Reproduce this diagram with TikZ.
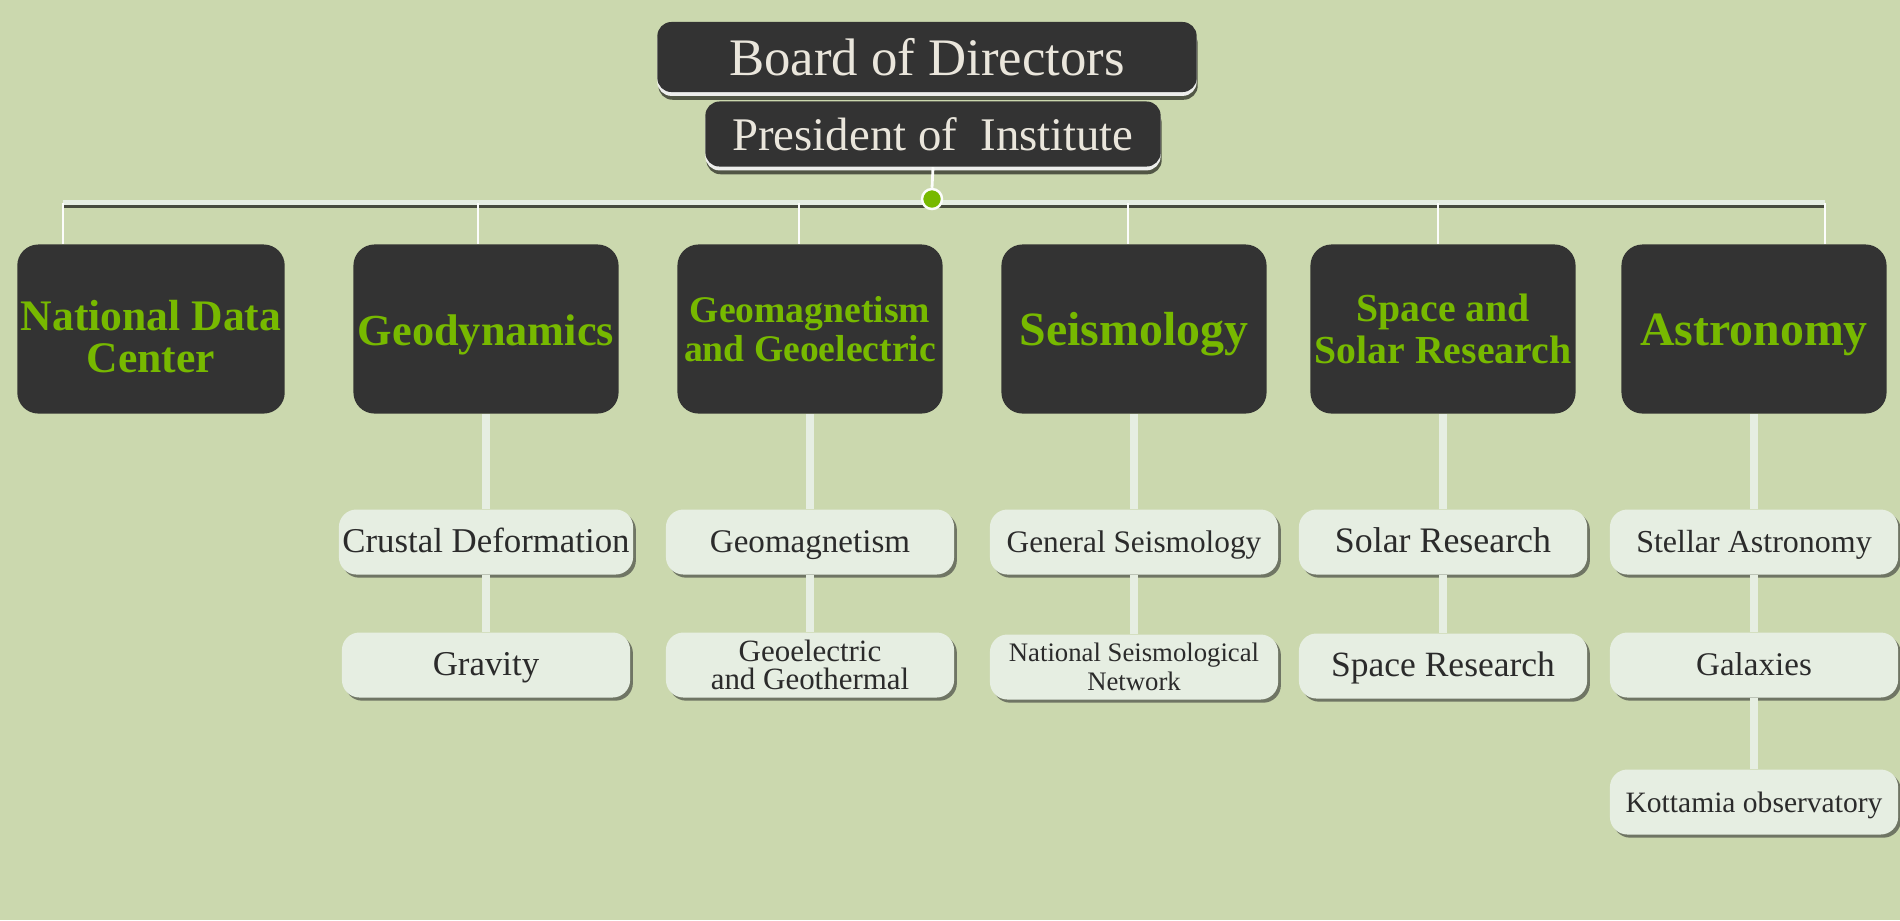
\documentclass[tikz,border=0pt]{standalone}
\usepackage{fontspec}
\setmainfont{Liberation Serif}
\usepackage{xcolor}
\usepackage{tikz}
\usetikzlibrary{shadows, positioning}

\definecolor{pagebg}{HTML}{CBD8AE}
\definecolor{boxdark}{HTML}{333333}
\definecolor{leaf}{HTML}{77B900}
\definecolor{paleleaf}{HTML}{E6EEE2}
\definecolor{ink}{HTML}{2B2B2B}
\definecolor{cream}{HTML}{EAE6DC}

\newcommand{\fs}[2]{\fontsize{#1}{#2}\selectfont}

\begin{document}
\begin{tikzpicture}[
    x=0.01cm, y=-0.01cm,
    head/.style={rectangle, rounded corners=4pt, fill=boxdark, text=cream, align=center, inner sep=1pt,
        drop shadow={fill=black, opacity=0.6, shadow xshift=0.3pt, shadow yshift=-2.2pt},
        drop shadow={fill=white, opacity=0.9, shadow xshift=0pt, shadow yshift=-1.1pt}},
    dept/.style={rectangle, rounded corners=6pt, fill=boxdark, text=leaf, font=\bfseries, minimum width=2.65cm, minimum height=1.69cm, align=center, inner sep=1pt},
    unit/.style={rectangle, rounded corners=5pt, fill=paleleaf, text=ink, minimum width=2.88cm, minimum height=0.65cm, align=center, inner sep=1pt,
        drop shadow={fill=black!80, opacity=0.6, shadow xshift=0.8pt, shadow yshift=-0.9pt}},
    oneline/.style={text height=0.66em, text depth=0.04em},
    thinlink/.style={draw=white!95!pagebg, line width=0.8pt},
    thicklink/.style={draw=paleleaf, line width=2.4pt}
]
    \fill[pagebg] (0,0) rectangle (1900,920);

    % top of the chart
    \node[head, minimum width=5.39cm, minimum height=0.70cm, font=\fs{15}{18}] (board) at (927,57) {Board of Directors};
    \node[head, minimum width=4.55cm, minimum height=0.65cm, font=\fs{13.3}{16}] (president) at (933,134) {President of\ \ Institute};

    \coordinate (barL) at (63,202.5);
    \coordinate (barR) at (1825,202.5);
    \draw[black!65!pagebg, line width=1.4pt] ([yshift=-0.9pt]barL) -- ([yshift=-0.9pt]barR);
    \draw[paleleaf, line width=1.5pt] (barL) -- (barR);
    \node[circle, fill=leaf, draw=white!90!paleleaf, line width=0.7pt, minimum size=0.2cm, inner sep=0pt] (hub) at (932,199) {};
    \draw[thinlink] (president.south) -- (hub.north);

    % departments
    \node[dept, font=\bfseries\fs{12.4}{12}, text height=25pt, text depth=0pt] (ndc) at (151,329) {National Data\\Center};
    \node[dept, font=\bfseries\fs{12.6}{14}, text height=9.3pt, text depth=0pt] (geody) at (486,329) {Geodynamics};
    \node[dept, font=\bfseries\fs{10.7}{10.9}] (geomag) at (810,329) {Geomagnetism\\and Geoelectric};
    \node[dept, font=\bfseries\fs{13.6}{15}, text height=9.2pt, text depth=0pt] (seis) at (1134,329) {Seismology};
    \node[dept, font=\bfseries\fs{11.3}{11.8}] (solar) at (1443,329) {Space and\\Solar Research};
    \node[dept, font=\bfseries\fs{13.6}{15}, text height=9.2pt, text depth=0pt] (astro) at (1754,329) {Astronomy};

    \draw[thinlink] (barL) -- (barL |- ndc.north);
    \draw[thinlink] (barR) -- (barR |- astro.north);
    \foreach \d/\dx in {geody/-8, geomag/-11, seis/-6, solar/-5}
        \draw[thinlink] ([xshift=\dx*0.01cm]\d.north) -- ([xshift=\dx*0.01cm]\d.north |- barL);

    % units
    \node[unit, oneline, font=\fs{9.9}{11}] (crust) at (486,542) {Crustal Deformation};
    \node[unit, oneline, font=\fs{9.9}{11}] (gravity) at (486,665) {Gravity};
    \node[unit, oneline, font=\fs{9.4}{11}] (magnet) at (810,542) {Geomagnetism};
    \node[unit, font=\fs{8.8}{7.8}] (electric) at (810,665) {Geoelectric\\and Geothermal};
    \node[unit, oneline, font=\fs{8.9}{11}] (genseis) at (1134,542) {General Seismology};
    \node[unit, font=\fs{7.6}{8.2}] (network) at (1134,667) {National Seismological\\Network};
    \node[unit, oneline, font=\fs{10.2}{11}] (solres) at (1443,542) {Solar Research};
    \node[unit, oneline, font=\fs{10.1}{11}] (spaceres) at (1443,666) {Space Research};
    \node[unit, oneline, font=\fs{9.1}{11}] (stellar) at (1754,542) {Stellar Astronomy};
    \node[unit, oneline, font=\fs{9.4}{11}] (galaxy) at (1754,665) {Galaxies};
    \node[unit, oneline, font=\fs{8.4}{11}] (kottamia) at (1754,802) {Kottamia observatory};

    \draw[thicklink] (geody) -- (crust);
    \draw[thicklink] (crust) -- (gravity);
    \draw[thicklink] (geomag) -- (magnet);
    \draw[thicklink] (magnet) -- (electric);
    \draw[thicklink] (seis) -- (genseis);
    \draw[thicklink] (genseis) -- (network);
    \draw[thicklink] (solar) -- (solres);
    \draw[thicklink] (solres) -- (spaceres);
    \draw[thicklink] (astro) -- (stellar);
    \draw[thicklink] (stellar) -- (galaxy);
    \draw[thicklink] (galaxy) -- (kottamia);
\end{tikzpicture}
\end{document}
